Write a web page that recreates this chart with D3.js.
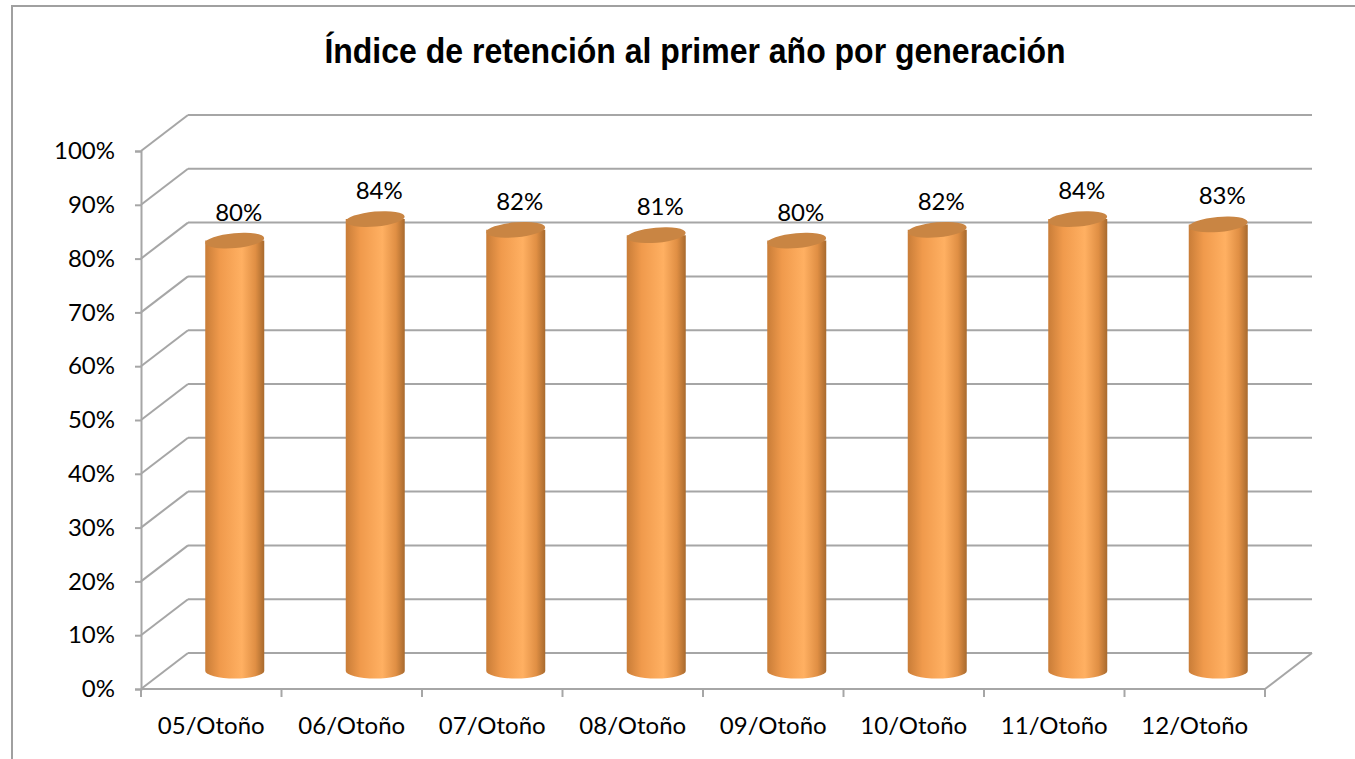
<!DOCTYPE html>
<html>
<head>
<meta charset="utf-8">
<script src="https://cdn.jsdelivr.net/npm/d3@7"></script>
<style>
  body { margin: 0; background: #fff; }
  svg text { fill: #000; }
</style>
</head>
<body>
<div id="chart"></div>
<script>
// data
var generaciones = ["05/Otoño", "06/Otoño", "07/Otoño", "08/Otoño", "09/Otoño", "10/Otoño", "11/Otoño", "12/Otoño"];
var retencion = [0.80, 0.84, 0.82, 0.81, 0.80, 0.82, 0.84, 0.83];
var yTicks = [0, 0.1, 0.2, 0.3, 0.4, 0.5, 0.6, 0.7, 0.8, 0.9, 1.0];
var titulo = "Índice de retención al primer año por generación";

var W = 1355, H = 759;
// front plane of the 3d box and its depth offset
var plotLeft = 141, plotRight = 1265, plotBottom = 689, plotTop = 151;
var dx = 47, dy = -36;
var gridColor = "#a6a6a6";

var svg = d3.select("#chart").append("svg")
    .attr("width", W)
    .attr("height", H);

// chart border (runs off the right and bottom edge)
svg.append("rect")
    .attr("x", 12).attr("y", 6)
    .attr("width", 1400).attr("height", 800)
    .attr("fill", "#fff")
    .attr("stroke", "#a0a0a0")
    .attr("stroke-width", 2);

svg.append("text")
    .attr("transform", "translate(695,63) scale(1,1.1)")
    .attr("text-anchor", "middle")
    .style("font-family", "'Liberation Sans', Arial, sans-serif")
    .style("font-weight", "bold")
    .style("font-size", "32px")
    .text(titulo);

var x = d3.scaleBand().domain(generaciones).range([plotLeft, plotRight]).padding(0);
var y = d3.scaleLinear().domain([0, 1]).range([plotBottom, plotTop]);

var grid = svg.append("g").attr("stroke", gridColor).attr("stroke-width", 2).attr("fill", "none");

// back wall lines and side wall diagonals
yTicks.forEach(function (t) {
    grid.append("line")
        .attr("x1", plotLeft + dx).attr("y1", y(t) + dy)
        .attr("x2", plotRight + dx).attr("y2", y(t) + dy);
    grid.append("line")
        .attr("x1", plotLeft).attr("y1", y(t))
        .attr("x2", plotLeft + dx).attr("y2", y(t) + dy);
});
// floor right edge
grid.append("line")
    .attr("x1", plotRight).attr("y1", y(0))
    .attr("x2", plotRight + dx).attr("y2", y(0) + dy);

// axes
var yAxis = d3.axisLeft(y)
    .tickValues(yTicks)
    .tickSize(6)
    .tickPadding(20)
    .tickFormat(d3.format(".0%"));
var gy = svg.append("g")
    .attr("transform", "translate(" + plotLeft + ",0)")
    .call(yAxis);

var xAxis = d3.axisBottom(x).tickSize(0).tickPadding(28);
var gx = svg.append("g")
    .attr("transform", "translate(0," + plotBottom + ")")
    .call(xAxis);

// category boundary ticks
gx.selectAll(".sep")
    .data(d3.range(generaciones.length + 1))
    .enter().append("line")
    .attr("class", "sep")
    .attr("x1", function (i) { return plotLeft + i * x.bandwidth(); })
    .attr("x2", function (i) { return plotLeft + i * x.bandwidth(); })
    .attr("y1", 0).attr("y2", 8)
    .attr("stroke", gridColor).attr("stroke-width", 2);

[gx, gy].forEach(function (g) {
    g.selectAll(".domain").attr("stroke", gridColor).attr("stroke-width", 2);
    g.selectAll(".tick line").attr("stroke", gridColor).attr("stroke-width", 2);
    g.selectAll("text")
        .style("font-family", "Lato, 'Open Sans', sans-serif")
        .style("font-size", "24px")
        .attr("fill", "#000");
});
gx.select(".domain").attr("d", "M" + plotLeft + ",0H" + plotRight);

// cylinder gradients
var defs = svg.append("defs");
var body = defs.append("linearGradient").attr("id", "cyl");
body.append("stop").attr("offset", "0%").attr("stop-color", "#c97d38");
body.append("stop").attr("offset", "25%").attr("stop-color", "#f09a4c");
body.append("stop").attr("offset", "62%").attr("stop-color", "#ffb062");
body.append("stop").attr("offset", "85%").attr("stop-color", "#e08f44");
body.append("stop").attr("offset", "100%").attr("stop-color", "#a86a2e");

var rx = 29.5, ry = 7.5;
var cx = function (d) { return x(d) + x.bandwidth() / 2 + dx / 2; };
var yBase = y(0) + dy / 2;

var bars = svg.append("g").selectAll("g")
    .data(generaciones)
    .enter().append("g");

bars.append("path")
    .attr("fill", "url(#cyl)")
    .attr("d", function (d, i) {
        var c = cx(d), yt = y(retencion[i]) + dy / 2;
        return "M" + (c - rx) + "," + yt +
            "L" + (c - rx) + "," + yBase +
            "A" + rx + "," + ry + " 0 0 0 " + (c + rx) + "," + yBase +
            "L" + (c + rx) + "," + yt + "Z";
    });

bars.append("ellipse")
    .attr("cx", cx)
    .attr("cy", function (d, i) { return y(retencion[i]) + dy / 2; })
    .attr("rx", rx).attr("ry", ry)
    .attr("transform", function (d, i) {
        return "rotate(-5," + cx(d) + "," + (y(retencion[i]) + dy / 2) + ")";
    })
    .attr("fill", "#c98543");

bars.append("text")
    .attr("x", function (d) { return cx(d) + 4; })
    .attr("y", function (d, i) { return y(retencion[i]) + dy / 2 - 20; })
    .attr("text-anchor", "middle")
    .style("font-family", "Lato, 'Open Sans', sans-serif")
    .style("font-size", "24px")
    .text(function (d, i) { return d3.format(".0%")(retencion[i]); });
</script>
</body>
</html>
